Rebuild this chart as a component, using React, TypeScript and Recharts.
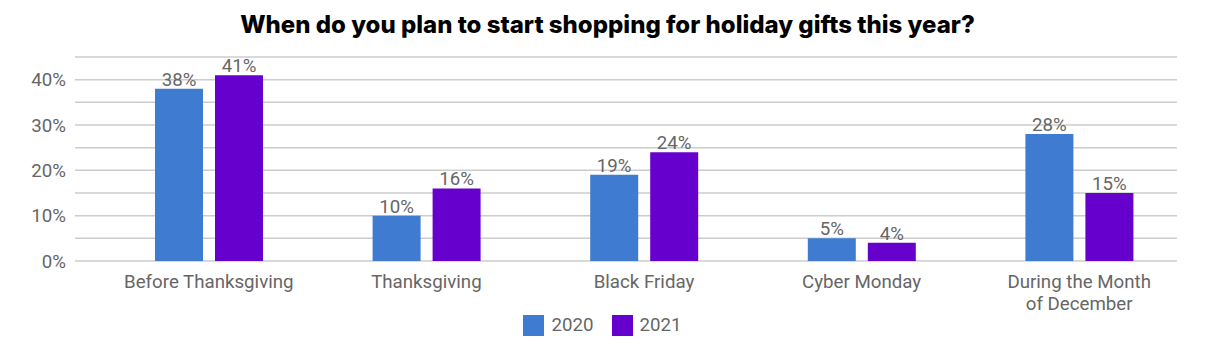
import { BarChart, Bar, XAxis, YAxis, CartesianGrid, LabelList, Legend } from 'recharts'

const categories = ['Before Thanksgiving', 'Thanksgiving', 'Black Friday', 'Cyber Monday', 'During the Month\nof December']
const share2020 = [38, 10, 19, 5, 28]
const share2021 = [41, 16, 24, 4, 15]
const yTicks = [0, 5, 10, 15, 20, 25, 30, 35, 40, 45]
const labeledTicks = [0, 10, 20, 30, 40]

const data = categories.map((name, i) => ({ name, y2020: share2020[i], y2021: share2021[i] }))

const FONT = 'Roboto, "Open Sans", sans-serif'
const GRAY = '#666666'
const FS = 18.7

function XTick(props: any) {
  const { x, y, payload } = props
  const lines = String(payload.value).split('\n')
  return (
    <text x={x} y={y} textAnchor="middle" fill={GRAY} fontSize={FS} fontFamily={FONT}>
      {lines.map((ln, i) => (
        <tspan key={i} x={x} dy={i === 0 ? 19 : 22}>
          {ln}
        </tspan>
      ))}
    </text>
  )
}

function YTick(props: any) {
  const { x, y, payload } = props
  if (!labeledTicks.includes(payload.value)) return <g />
  return (
    <text x={x - 26} y={y} dy={6.5} textAnchor="end" fill={GRAY} fontSize={FS} fontFamily={FONT}>
      {payload.value}%
    </text>
  )
}

function LegendContent() {
  const items = [
    { label: '2020', color: '#3f7bd0' },
    { label: '2021', color: '#6600cc' },
  ]
  return (
    <div style={{ display: 'flex', justifyContent: 'center', gap: 18, paddingLeft: 17, fontFamily: FONT, fontSize: FS, color: GRAY }}>
      {items.map((it) => (
        <div key={it.label} style={{ display: 'flex', alignItems: 'center', gap: 7 }}>
          <span style={{ width: 21, height: 21, background: it.color, display: 'inline-block' }} />
          <span>{it.label}</span>
        </div>
      ))}
    </div>
  )
}

export default function App() {
  return (
    <div style={{ position: 'absolute', left: 0, top: 0, width: 1215, height: 356, background: '#fff' }}>
      <div
        style={{
          position: 'absolute',
          top: 10,
          left: 0,
          width: 1215,
          textAlign: 'center',
          fontFamily: 'Inter, "Open Sans", sans-serif',
          fontWeight: 800,
          fontSize: 24,
          color: '#000',
        }}
      >
        When do you plan to start shopping for holiday gifts this year?
      </div>
      <BarChart
        width={1215}
        height={356}
        data={data}
        margin={{ top: 57, right: 27, left: 0, bottom: 23 }}
        barSize={48}
        barGap={12}
      >
        <CartesianGrid vertical={false} stroke="#cccccc" strokeWidth={1.5} x={75} width={1102} />
        <XAxis dataKey="name" axisLine={false} tickLine={false} tick={<XTick />} interval={0} height={50} />
        <YAxis
          domain={[0, 45]}
          ticks={yTicks}
          interval={0}
          axisLine={false}
          tickLine={false}
          tick={<YTick />}
          width={100}
        />
        <Legend verticalAlign="bottom" content={<LegendContent />} wrapperStyle={{ bottom: 20 }} />
        <Bar dataKey="y2020" name="2020" fill="#3f7bd0" isAnimationActive={false}>
          <LabelList dataKey="y2020" position="top" formatter={(v: any) => `${v}%`} fill={GRAY} fontSize={FS} fontFamily={FONT} offset={3} />
        </Bar>
        <Bar dataKey="y2021" name="2021" fill="#6600cc" isAnimationActive={false}>
          <LabelList dataKey="y2021" position="top" formatter={(v: any) => `${v}%`} fill={GRAY} fontSize={FS} fontFamily={FONT} offset={3} />
        </Bar>
      </BarChart>
    </div>
  )
}
